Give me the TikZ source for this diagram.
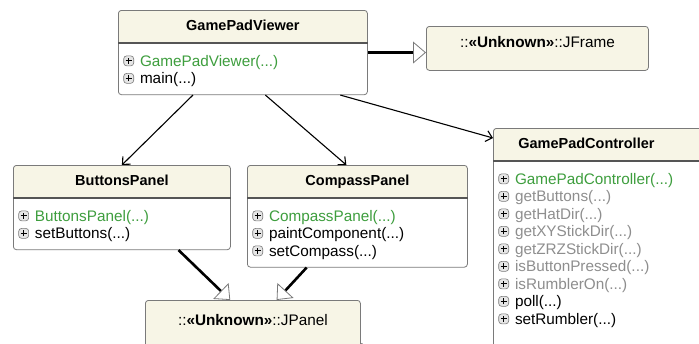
\documentclass[tikz,border=0pt]{standalone}
\usepackage{fontspec}
\setmainfont{Liberation Sans}
\usetikzlibrary{shapes.multipart,backgrounds,arrows.meta,calc}

\definecolor{headfill}{HTML}{F7F5E6}
\definecolor{ctorgreen}{HTML}{3E9E3E}
\definecolor{dimtext}{HTML}{8E8E8E}
\definecolor{boxline}{HTML}{7A7A7A}

% the small boxed plus in front of each operation
\newcommand\expander{\tikz[baseline=-0.5pt]{\draw[boxline, fill=gray!20, line width=0.6pt] (0pt,0pt) rectangle (10pt,10pt);
    \draw[line width=1pt] (2pt,5pt)--(8pt,5pt) (5pt,2pt)--(5pt,8pt);}\hspace{6pt}}
\newcommand\firstrow{\rule{0pt}{15.5pt}}
\newcommand\classname[1]{\hbox to\hsize{\hfil\strut\fontsize{14.5}{17.5}\selectfont\bfseries #1\hfil}}

\tikzset{
    umlclass/.style={rectangle split, rectangle split parts=2, draw=boxline, line width=0.8pt,
        rounded corners=3pt, rectangle split part fill={headfill,white}, rectangle split draw splits=false,
        inner xsep=5pt, inner ysep=7.25pt, anchor=north west,
        font=\fontsize{15.3}{17.5}\selectfont, align=left},
    extclass/.style={rectangle, draw=boxline, line width=0.8pt, rounded corners=3pt, fill=headfill,
        inner xsep=5pt, inner ysep=7.25pt, anchor=north west,
        font=\fontsize{15.3}{17.5}\selectfont, align=center},
    dep/.style={line width=1.1pt, -{Straight Barb[length=6pt, width=11pt, line width=1.1pt]}},
    gen/.style={line width=2.6pt, -{Triangle[open, length=13pt, width=22pt, line width=0.8pt, color=boxline]}}
}

\begin{document}
\begin{tikzpicture}[x=1pt, y=-1pt]
    \path[use as bounding box, fill=white] (0,0) rectangle (699,343);

    \node[umlclass, text width=239pt] (viewer) at (118,10) {\classname{GamePadViewer}
        \nodepart{two}\firstrow\expander{\color{ctorgreen}GamePadViewer(...)}\\
        \expander main(...)};
    \node[extclass, text width=212pt] (jframe) at (426,26)
        {\rule[-15.75pt]{0pt}{29.5pt}::\textbf{«Unknown»}::JFrame};

    \node[umlclass, text width=207pt] (buttons) at (13,165) {\classname{ButtonsPanel}
        \nodepart{two}\firstrow\expander{\color{ctorgreen}ButtonsPanel(...)}\\
        \expander setButtons(...)};
    \node[umlclass, text width=210pt] (compass) at (247,165) {\classname{CompassPanel}
        \nodepart{two}\firstrow\expander{\color{ctorgreen}CompassPanel(...)}\\
        \expander paintComponent(...)\\
        \expander setCompass(...)};
    % runs off the right edge, so the name sits left of the middle
    \node[umlclass, text width=202pt] (controller) at (493,128) {\classname{GamePadController\hspace*{26pt}}
        \nodepart{two}\firstrow\expander{\color{ctorgreen}GamePadController(...)}\\
        \expander{\color{dimtext}getButtons(...)}\\
        \expander{\color{dimtext}getHatDir(...)}\\
        \expander{\color{dimtext}getXYStickDir(...)}\\
        \expander{\color{dimtext}getZRZStickDir(...)}\\
        \expander{\color{dimtext}isButtonPressed(...)}\\
        \expander{\color{dimtext}isRumblerOn(...)}\\
        \expander poll(...)\\
        \expander setRumbler(...)\rule[-30pt]{0pt}{0pt}};
    \node[extclass, text width=205pt] (jpanel) at (145,300)
        {\rule[-30pt]{0pt}{47.75pt}::\textbf{«Unknown»}::JPanel};

    % header rules and shadows
    \foreach \n in {viewer,buttons,compass,controller}
        \draw[boxline!70!black, line width=1.6pt] (\n.one split west) -- (\n.one split east);
    \begin{scope}[on background layer]
        \foreach \n in {viewer,jframe,buttons,compass,controller,jpanel}
            \fill[black!45, rounded corners=3pt] ([shift={(1.8,1.8)}]\n.north west) rectangle ([shift={(1.8,1.8)}]\n.south east);
    \end{scope}

    % uses
    \draw[dep] ($(viewer.south west)!0.30!(viewer.south east)$) -- (buttons.north);
    \draw[dep] ($(viewer.south west)!0.59!(viewer.south east)$) -- ($(compass.north west)!0.45!(compass.north east)$);
    \draw[dep] ($(viewer.south west)!0.89!(viewer.south east)$) -- ($(controller.north west)+(0,10)$);
    % extends
    \draw[gen] (viewer.east) -- (viewer.east -| jframe.west);
    \draw[gen] ($(buttons.south west)!0.76!(buttons.south east)$) -- ($(jpanel.north west)!0.395!(jpanel.north east)$);
    \draw[gen] ($(compass.south west)!0.27!(compass.south east)$) -- ($(jpanel.north west)!0.61!(jpanel.north east)$);
\end{tikzpicture}
\end{document}
